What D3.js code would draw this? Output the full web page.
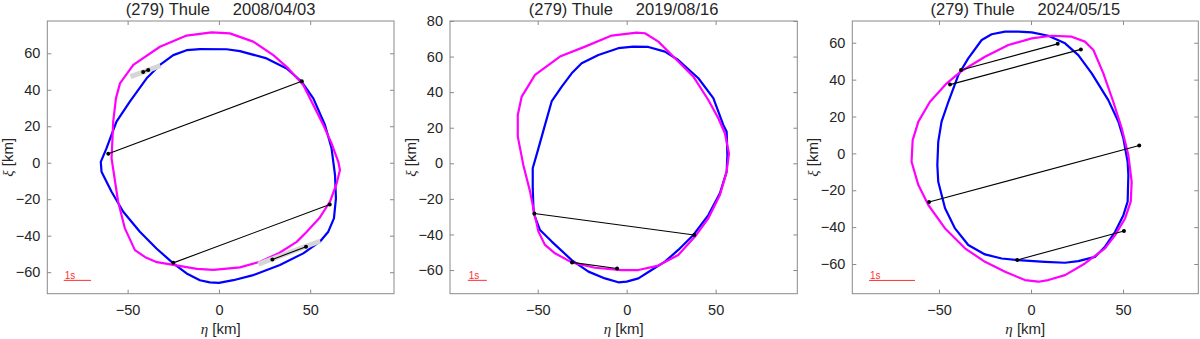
<!DOCTYPE html>
<html>
<head>
<meta charset="utf-8">
<script src="https://cdn.jsdelivr.net/npm/d3@7"></script>
<style>
  body { margin: 0; background: #fff; }
  svg { display: block; font-family: "Liberation Sans", Arial, sans-serif; }
</style>
</head>
<body>
<svg id="chart" width="1200" height="339"></svg>
<script>
// profiles in [eta, xi] km
var blue2008 = [[-10.4,62.3],[4.2,62.2],[11.5,61.2],[26.1,57.2],[37.1,51.7],[45.3,44.4],[51.7,35.3],[58.1,20.7],[61.7,7.9],[63.6,-6.8],[64.1,-19.6],[63,-30.5],[59.9,-37.8],[55.3,-43.3],[46.2,-49.7],[33.4,-56.1],[18.8,-61.6],[7.9,-64.4],[0,-65.9],[-5,-65.6],[-10.4,-64.4],[-17.7,-60.7],[-25,-55.2],[-34.2,-47],[-43.3,-37.8],[-52.4,-26.9],[-58.8,-15.9],[-64.3,-4.9],[-64.7,0.5],[-61.6,7.9],[-56.1,22.5],[-48.8,33.5],[-39.6,46.3],[-32.3,53.6],[-25,59],[-17.7,61.7]];
var magenta2008 = [[-4,71.5],[6,70.9],[18.8,66.4],[29.8,59],[38,51.7],[46.2,42.6],[51.7,31.6],[57.2,20.7],[61.7,10.6],[65.4,0.5],[66.3,-4],[64.5,-11.3],[60.8,-21.4],[55.3,-30],[48,-38],[42.6,-43.4],[33,-49.5],[22.5,-54.3],[11.5,-57.4],[-3,-58.7],[-12,-58.2],[-25,-56],[-34,-54.5],[-40,-52],[-46,-47.9],[-51.5,-36],[-55.2,-21.4],[-58.8,2.4],[-57.9,22.5],[-56.4,35.3],[-54.2,43.5],[-46.9,53.6],[-32.3,63.6],[-17.7,69.7]];
var chords2008 = [[-60.6,4.9,45.4,44.7],[-25,-54.9,60.7,-22.9],[-41.5,49.8,-38.7,50.9],[29.3,-53,47.7,-46.1]];
var bands2008 = [[-48.4,47.2,-32,53.2],[21.6,-55.6,55.5,-42.9]];

var blue2019 = [[3.7,65.6],[12.2,65.4],[21.5,62.8],[29,58.1],[40.3,47.8],[48.7,36.6],[54.3,21.6],[56.2,17.8],[56.6,4.7],[56.2,-4.7],[52.4,-16.9],[45.9,-29.1],[37.5,-40.3],[29,-48.7],[21.5,-55.3],[14,-60],[6.6,-64.7],[0,-66.5],[-4.7,-66.9],[-12.2,-64.7],[-21.5,-60.9],[-30.9,-54.4],[-42.1,-44],[-48.7,-37.5],[-51.9,-29.1],[-52.4,-25.3],[-52.8,-14.1],[-52.8,-2.8],[-49.6,8.4],[-45.9,21.6],[-42.1,35],[-36.5,43.1],[-30.9,50.6],[-25.3,56.2],[-15.9,60.9],[-4.7,64.7]];
var magenta2019 = [[5.6,73.5],[10.3,73.1],[17.8,68.4],[26.2,60],[37.5,48.7],[45.9,35.6],[51.5,25.3],[55.2,16.9],[57.5,5.6],[56.2,-4.7],[52.4,-17.8],[45.9,-30.9],[38.4,-41.2],[29,-51.5],[17.8,-57.5],[6.6,-60],[-2.8,-60],[-17.8,-58.7],[-30.9,-55.7],[-40.3,-50.6],[-45.9,-45.9],[-49.6,-38.4],[-51.9,-28.1],[-54.3,-15.9],[-58.1,-0.9],[-61.2,15],[-61.2,27.2],[-59,37.5],[-51.5,49.7],[-37.5,60],[-23.4,65.6],[-8.4,71.8]];
var chords2019 = [[-51.9,-28.2,38,-40.3],[-30.7,-55.7,-5.4,-59.1]];
var bands2019 = [];

var blue2024 = [[-14.1,66],[-6.9,66],[0.4,65.6],[9.4,63.8],[18.5,59.7],[25.7,53.3],[33,43.4],[42,28.9],[47.5,17.2],[50.2,8.1],[52.5,-4.5],[52.9,-11.8],[52.5,-26.2],[50.2,-33.5],[45.7,-42.5],[40.2,-50.6],[34.8,-56.1],[25.7,-58.4],[18.5,-59.3],[7.6,-58.8],[-6.9,-57.9],[-15.9,-57],[-25,-54.8],[-34.1,-49.7],[-41.3,-40.7],[-46.7,-29.8],[-50.4,-15.4],[-50.9,-6.3],[-50.4,6.3],[-48.6,17.2],[-44.9,28],[-39.5,42.5],[-34.1,51.5],[-26.8,61.5],[-21.4,64.6]];
var magenta2024 = [[4,-69.6],[9.4,-68.7],[18.5,-66],[29.3,-59.7],[40.2,-51.5],[45.7,-44.3],[51.1,-35.3],[54.2,-26.2],[54.7,-15.4],[52.9,-0.9],[49.3,13.6],[44.7,28],[39.3,43.4],[33.9,56.1],[29.3,60.6],[22.1,63.3],[11.2,63.8],[0.4,62.4],[-12.3,58.8],[-25,52.4],[-37.7,44.7],[-45.8,38],[-54.9,28],[-61.2,17.2],[-64.3,7.2],[-64.9,-4.5],[-61.2,-17.2],[-55.8,-28],[-46.7,-40.7],[-35.9,-51.5],[-25,-58.8],[-14.1,-64.2],[-3.3,-68.7]];
var chords2024 = [[-38,45.2,14.5,59.4],[-44,37.3,27.1,56.4],[-55.4,-26.4,58.8,4.3],[-7.5,-57.8,50.5,-42.1]];
var bands2024 = [];

var titles = ['(279) Thule     2008/04/03', '(279) Thule     2019/08/16', '(279) Thule     2024/05/15'];
var etaLimits = [[-94, 95.9], [-99.3, 95.9], [-97.1, 90.9]];
var xiLimits = [[-71.8, 77.7], [-73.3, 80], [-76.1, 71.8]];
var etaTicks = [-50, 0, 50];
var xiTicks = [[-60, -40, -20, 0, 20, 40, 60], [-60, -40, -20, 0, 20, 40, 60, 80], [-60, -40, -20, 0, 20, 40, 60]];
// 1 s scale bar: start [eta, xi] and length in km
var scaleStart = [[-85, -64.5], [-89.3, -65.8], [-88, -68.9]];
var scaleLength = [15, 10.7, 25];

var panels = [
    { blue: blue2008, magenta: magenta2008, chords: chords2008, bands: bands2008, box: [47.3, 21, 394, 293.7] },
    { blue: blue2019, magenta: magenta2019, chords: chords2019, bands: bands2019, box: [450, 21, 797.3, 293.7] },
    { blue: blue2024, magenta: magenta2024, chords: chords2024, bands: bands2024, box: [852.3, 21, 1198.3, 293.7] }
];

var svg = d3.select('#chart');
var textCol = '#262626', axisCol = '#8a8a8a';

panels.forEach(function(p, i) {
    var b = p.box;
    var x = d3.scaleLinear().domain(etaLimits[i]).range([b[0], b[2]]);
    var y = d3.scaleLinear().domain(xiLimits[i]).range([b[3], b[1]]);
    var g = svg.append('g').attr('class', 'panel');

    var line = d3.line().x(d => x(d[0])).y(d => y(d[1])).curve(d3.curveLinearClosed);

    // axes, ticks inward on all four sides
    var ax = [
        d3.axisBottom(x).tickValues(etaTicks).tickSize(-4).tickSizeOuter(0).tickPadding(11),
        d3.axisTop(x).tickValues(etaTicks).tickSize(-4).tickSizeOuter(0).tickFormat(''),
        d3.axisLeft(y).tickValues(xiTicks[i]).tickSize(-4).tickSizeOuter(0).tickPadding(7),
        d3.axisRight(y).tickValues(xiTicks[i]).tickSize(-4).tickSizeOuter(0).tickFormat('')
    ];
    var pos = ['translate(0,' + b[3] + ')', 'translate(0,' + b[1] + ')', 'translate(' + b[0] + ',0)', 'translate(' + b[2] + ',0)'];
    ax.forEach(function(a, k) {
        var ag = g.append('g').attr('transform', pos[k]).call(a);
        ag.select('.domain').remove();
        ag.selectAll('line').attr('stroke', axisCol);
        ag.selectAll('text').attr('fill', textCol).style('font-size', '14.5px')
            .style('font-family', '"Liberation Sans", Arial, sans-serif');
    });
    g.append('rect')
        .attr('x', b[0]).attr('y', b[1])
        .attr('width', b[2] - b[0]).attr('height', b[3] - b[1])
        .attr('fill', 'none').attr('stroke', axisCol).attr('stroke-width', 1);

    g.append('path').datum(p.blue).attr('d', line)
        .attr('fill', 'none').attr('stroke', '#0000ff').attr('stroke-width', 2.2).attr('stroke-linejoin', 'round');
    g.append('path').datum(p.magenta).attr('d', line)
        .attr('fill', 'none').attr('stroke', '#ff00ff').attr('stroke-width', 2.2).attr('stroke-linejoin', 'round');

    g.selectAll('.band').data(p.bands).enter().append('line')
        .attr('class', 'band')
        .attr('x1', d => x(d[0])).attr('y1', d => y(d[1]))
        .attr('x2', d => x(d[2])).attr('y2', d => y(d[3]))
        .attr('stroke', '#d6d6d6').attr('stroke-width', 5);

    g.selectAll('.chord').data(p.chords).enter().append('line')
        .attr('class', 'chord')
        .attr('x1', d => x(d[0])).attr('y1', d => y(d[1]))
        .attr('x2', d => x(d[2])).attr('y2', d => y(d[3]))
        .attr('stroke', '#000').attr('stroke-width', 1.1);
    var ends = [];
    p.chords.forEach(function(c) { ends.push([c[0], c[1]], [c[2], c[3]]); });
    g.selectAll('.dot').data(ends).enter().append('circle')
        .attr('class', 'dot')
        .attr('cx', d => x(d[0])).attr('cy', d => y(d[1])).attr('r', 2)
        .attr('fill', '#000');

    // 1 s scale
    var s = scaleStart[i];
    g.append('line')
        .attr('x1', x(s[0])).attr('x2', x(s[0] + scaleLength[i]))
        .attr('y1', y(s[1])).attr('y2', y(s[1]))
        .attr('stroke', '#ff3030').attr('stroke-width', 1);
    g.append('text')
        .attr('x', x(s[0]) + 1).attr('y', y(s[1]) - 1.5)
        .attr('fill', '#ff3030').style('font-size', '10px')
        .text('1s');

    var cx = (b[0] + b[2]) / 2, cy = (b[1] + b[3]) / 2;
    g.append('text')
        .attr('x', cx).attr('y', 15)
        .attr('text-anchor', 'middle').attr('fill', textCol)
        .style('font-size', '16.5px').style('white-space', 'pre')
        .text(titles[i]);

    var xl = g.append('text')
        .attr('x', cx).attr('y', b[3] + 40.5)
        .attr('text-anchor', 'middle').attr('fill', textCol)
        .style('font-size', '15px');
    xl.append('tspan').style('font-family', '"Liberation Serif", serif').style('font-style', 'italic').text('η');
    xl.append('tspan').text(' [km]');

    var yl = g.append('text')
        .attr('transform', 'translate(' + (b[0] - 34) + ',' + cy + ') rotate(-90)')
        .attr('text-anchor', 'middle').attr('fill', textCol)
        .style('font-size', '15px');
    yl.append('tspan').style('font-family', '"Liberation Serif", serif').style('font-style', 'italic').text('ξ');
    yl.append('tspan').text(' [km]');
});
</script>
</body>
</html>
